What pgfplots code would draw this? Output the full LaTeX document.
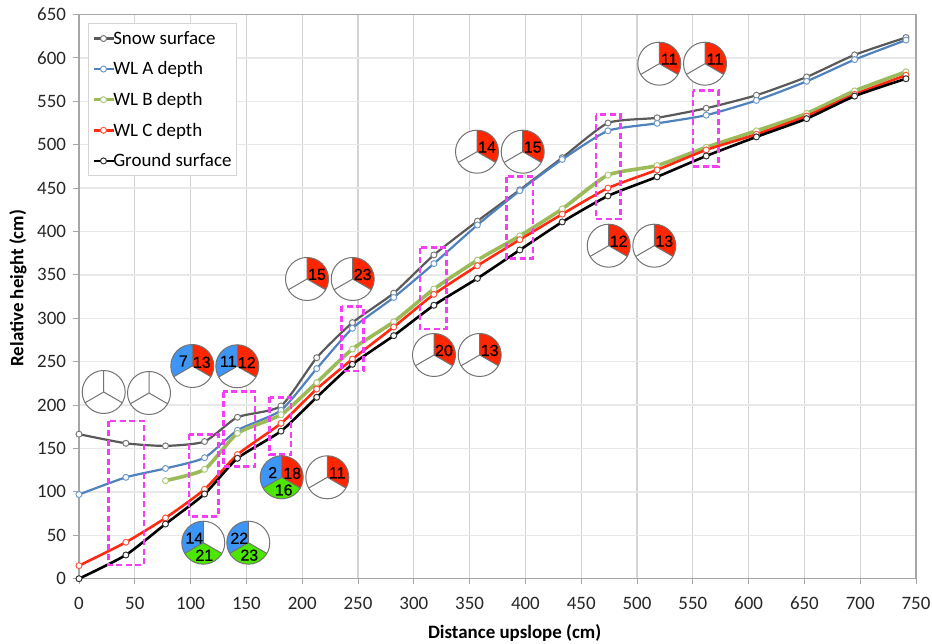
\documentclass[border=0pt]{standalone}
\usepackage{pgfplots}
\pgfplotsset{compat=1.18}
\usepackage{fontspec}
\setmainfont{Carlito}
\newfontfamily\arialf[FakeBold=0.5]{Liberation Sans}
\definecolor{snowc}{HTML}{595959}
\definecolor{wla}{HTML}{4F81BD}
\definecolor{wlb}{HTML}{9BBB59}
\definecolor{wlc}{HTML}{FF2A12}
\definecolor{gndc}{HTML}{000000}
\definecolor{pred}{HTML}{FF2600}
\definecolor{pblue}{HTML}{3D95F5}
\definecolor{pgreen}{HTML}{4CE600}
\definecolor{boxc}{HTML}{F53DF5}
\definecolor{gridv}{HTML}{D4D4D4}
\definecolor{gridh}{HTML}{E8E8E8}
\definecolor{axc}{HTML}{A6A6A6}
% pie: x y blue red green (empty = no fill)
\newcommand\rsec[3]{\fill[#3] (0,0) -- (#1:21.5bp) arc[start angle=#1,end angle=#2,radius=21.5bp] -- cycle;}
\newcommand\pienum[3]{\node[font=\arialf\fontsize{16}{16}\selectfont,text=black,inner sep=0pt] at (#1bp,#2bp) {#3};}
\newcommand\piebase[2]{\begin{scope}[shift={(#1bp,{644bp-#2bp})}]\fill[white] (0,0) circle (21.5bp);}
\newcommand\pieend{\draw[draw=gray!90!black,line width=1bp] (0,0) circle (21.5bp);
  \draw[draw=gray!90!black,line width=1bp] (90:21.5bp) -- (0,0) -- (-30:21.5bp) (0,0) -- (210:21.5bp);\end{scope}}
\newcommand\pieR[3]{\piebase{#1}{#2}\rsec{-30}{90}{pred}\pieend
  \begin{scope}[shift={(#1bp,{644bp-#2bp})}]\pienum{10}{4.5}{#3}\end{scope}}
\newcommand\pieBR[4]{\piebase{#1}{#2}\rsec{-30}{90}{pred}\rsec{90}{210}{pblue}\pieend
  \begin{scope}[shift={(#1bp,{644bp-#2bp})}]\pienum{-9}{5}{#3}\pienum{9.5}{3.7}{#4}\end{scope}}
\newcommand\pieBG[4]{\piebase{#1}{#2}\rsec{90}{210}{pblue}\rsec{210}{330}{pgreen}\pieend
  \begin{scope}[shift={(#1bp,{644bp-#2bp})}]\pienum{-9}{4.5}{#3}\pienum{1}{-12.5}{#4}\end{scope}}
\newcommand\pieE[2]{\piebase{#1}{#2}\pieend}
\newcommand\dbox[4]{\draw[boxc,line width=2.6bp,dash pattern=on 6bp off 3.5bp] (#1bp,{644bp-#2bp}) rectangle (#3bp,{644bp-#4bp});}
\pgfplotsset{mymark/.style={mark=*,mark size=3bp,mark options={solid,fill=white,draw=#1!80!white,line width=1bp}}}
\pgfplotstableread{
x y
0 166.5
42 156
77.5 153
112.5 158
142 186
181 199
213 254.6
245 295
282 329
318 373
357 412
395 448
433 485
474 525
518 531
562 542
607 557
652 578
695 603.5
741 623.5
}\snow
\pgfplotstableread{
x y
0 97
42 116.8
77.5 127
112.5 139.4
142 171
181 194
213 242
245 288.5
282 324
318 363
357 407.5
395 447
433 483
474 516
518 524.6
562 534
607 551
652 573
695 598
741 620.5
}\wla
\pgfplotstableread{
x y
77.5 113
112.5 126
142 167.5
181 189
213 226
245 264.6
282 296
318 333.7
357 367
395 395
433 426
474 465
518 476
562 497
607 516
652 536
695 562
741 584
}\wlb
\pgfplotstableread{
x y
0 15
42 42
77.5 70
112.5 103
142 143
181 179
213 218.5
245 253
282 290
318 327.6
357 360.6
395 390.6
433 420
474 450
518 471
562 494
607 512
652 533
695 558
741 580
}\wlc
\pgfplotstableread{
x y
0 0
42 27.3
77.5 63
112.5 97.6
142 138.7
181 170
213 209
245 247
282 280
318 315
357 346
395 378.7
433 411
474 441
518 463
562 487
607 509
652 530
695 556
741 576
}\gnd
\begin{document}
\begin{tikzpicture}
\path[use as bounding box] (0,0) rectangle (932bp,644bp);
\begin{axis}[
  at={(79bp,65.3bp)},anchor=south west,
  scale only axis,width=837bp,height=564.2bp,
  xmin=0,xmax=750,ymin=0,ymax=650,
  xtick distance=50,ytick distance=50,
  xtick pos=bottom,ytick pos=left,
  tick align=outside,major tick length=5.5bp,
  tick style={axc,line width=1bp},
  axis line style={axc,line width=1.2bp},
  grid=major,
  x grid style={gridv,line width=1.3bp},
  y grid style={gridh,line width=1.3bp},
  /pgf/number format/assume math mode=true,
  tick label style={font=\fontsize{19}{19}\selectfont,text=black!85},
  xticklabel style={yshift=-9bp},
  yticklabel style={xshift=-4bp},
  xlabel={\textbf{Distance upslope (cm)}},
  ylabel={\textbf{Relative height (cm)}},
  label style={font=\fontsize{19}{19}\selectfont,text=black},
  x label style={at={(axis description cs:0.5205,-0.096)},anchor=center},
  y label style={at={(axis description cs:-0.0729,0.515)},anchor=center},
  legend cell align=left,
  legend style={at={(axis description cs:0.0104,0.9844)},anchor=north west,
    draw=gridv,line width=1bp,fill=white,font=\fontsize{19}{19}\selectfont,
    row sep=12bp,inner xsep=3.5bp,inner ysep=5.5bp,
    /tikz/every even column/.append style={column sep=0bp},
    /tikz/every odd column/.append style={column sep=-4bp}},
  legend image code/.code={\draw[mark repeat=2,mark phase=2,#1] plot coordinates {(0bp,0bp)(10bp,0bp)(20bp,0bp)};},
]
\addplot[snowc,line width=2.2bp,smooth,tension=0.35,mymark=snowc] table[x=x,y=y] {\snow};
\addlegendentry{Snow surface}
\addplot[wla,line width=2.2bp,smooth,tension=0.35,mymark=wla] table[x=x,y=y] {\wla};
\addlegendentry{WL A depth}
\addplot[wlb,line width=3.6bp,smooth,tension=0.35,mymark=wlb] table[x=x,y=y] {\wlb};
\addlegendentry{WL B depth}
\addplot[wlc,line width=2.6bp,smooth,tension=0.35,mymark=wlc] table[x=x,y=y] {\wlc};
\addlegendentry{WL C depth}
\addplot[gndc,line width=2.6bp,smooth,tension=0.35,mymark=gndc] table[x=x,y=y] {\gnd};
\addlegendentry{Ground surface}
\end{axis}
\dbox{108.3}{421}{144}{565}
\dbox{189}{434.3}{218.3}{516.7}
\dbox{223.3}{391.7}{255}{466.7}
\dbox{269.7}{397.3}{291}{454.3}
\dbox{341.7}{306.3}{363.3}{371}
\dbox{420}{247.7}{446.7}{329}
\dbox{506.3}{176.7}{533}{258.3}
\dbox{596}{114.7}{620.3}{219}
\dbox{693}{90.7}{718.3}{166.3}
\pieE{103.7}{392}
\pieE{149}{393}
\pieBR{192.3}{366}{7}{13}
\pieBR{237.3}{366.3}{11}{12}
\pieBG{203.3}{542.7}{14}{21}
\pieBG{248.3}{542.7}{22}{23}
\piebase{281.7}{477.3}\rsec{-30}{90}{pred}\rsec{90}{210}{pblue}\rsec{210}{330}{pgreen}\pieend
\begin{scope}[shift={(281.7bp,{644bp-477.3bp})}]\pienum{-9}{4.7}{2}\pienum{10.5}{4}{18}\pienum{2}{-12.7}{16}\end{scope}
\pieR{327.3}{477.3}{11}
\pieR{307}{279}{15}
\pieR{352.7}{279}{23}
\pieR{434}{355}{20}
\pieR{479.7}{355}{13}
\pieR{477}{151.7}{14}
\pieR{522.7}{151.7}{15}
\pieR{608.7}{245.7}{12}
\pieR{654.3}{245.7}{13}
\pieR{659.3}{63.7}{11}
\pieR{705}{63.7}{11}
\end{tikzpicture}
\end{document}
